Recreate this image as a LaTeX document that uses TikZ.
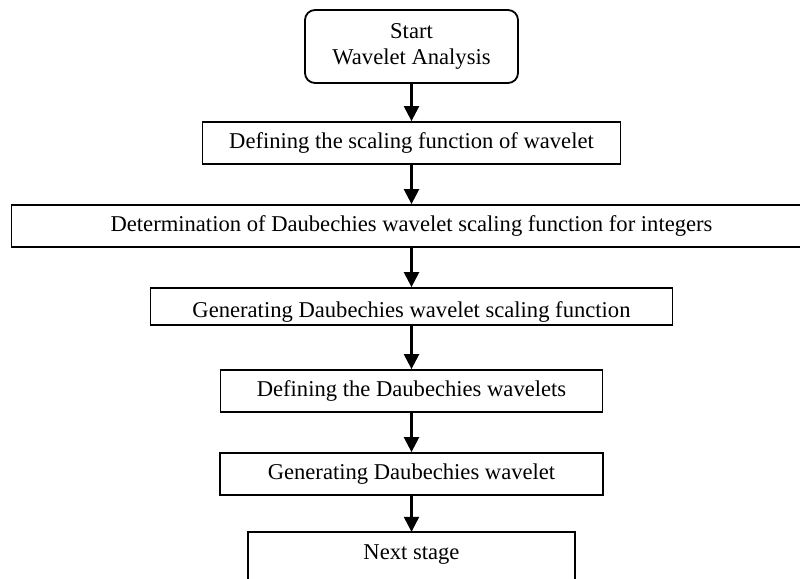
\documentclass[tikz,border=0pt]{standalone}
\usepackage{fontspec}
\setmainfont{Liberation Serif}
\usetikzlibrary{arrows.meta}
\begin{document}
\begin{tikzpicture}[x=1pt,y=-1pt,
  every node/.style={font=\fontsize{22.6}{26.5}\selectfont},
  box/.style={draw, line width=1.8pt, inner sep=0pt, align=center},
  flow/.style={line width=2.4pt, -{Triangle[width=15pt,length=15pt]}}]
\useasboundingbox[fill=white] (0,0) rectangle (800,578);
\node[box, rounded corners=10pt, minimum width=213pt, minimum height=73pt] (start) at (411.5,46.5) {Start\\Wavelet Analysis};
\node[box, minimum width=418pt, minimum height=42pt] (b2) at (411.5,143) {Defining the scaling function of wavelet};
\node[box, minimum width=800pt, minimum height=42pt] (b3) at (411.5,226) {Determination of Daubechies wavelet scaling function for integers};
\node[box, minimum width=522pt, minimum height=37pt, text depth=0pt, text height=22pt] (b4) at (411.5,306.5) {Generating Daubechies wavelet scaling function};
\node[box, minimum width=382pt, minimum height=42pt] (b5) at (411.5,391) {Defining the Daubechies wavelets};
\node[box, minimum width=383pt, minimum height=42pt] (b6) at (411.5,474) {Generating Daubechies wavelet};
\node[inner sep=0pt, minimum width=327pt, minimum height=46pt] (b7) at (411.5,555) {Next stage};
\draw[line width=1.8pt] (b7.south west) ++(0,30) |- (b7.north east) -- ++(0,76);
\draw[flow] (start) -- (b2);
\draw[flow] (b2) -- (b3);
\draw[flow] (b3) -- (b4);
\draw[flow] (b4) -- (b5);
\draw[flow] (b5) -- (b6);
\draw[flow] (b6) -- (b7);
\end{tikzpicture}
\end{document}
